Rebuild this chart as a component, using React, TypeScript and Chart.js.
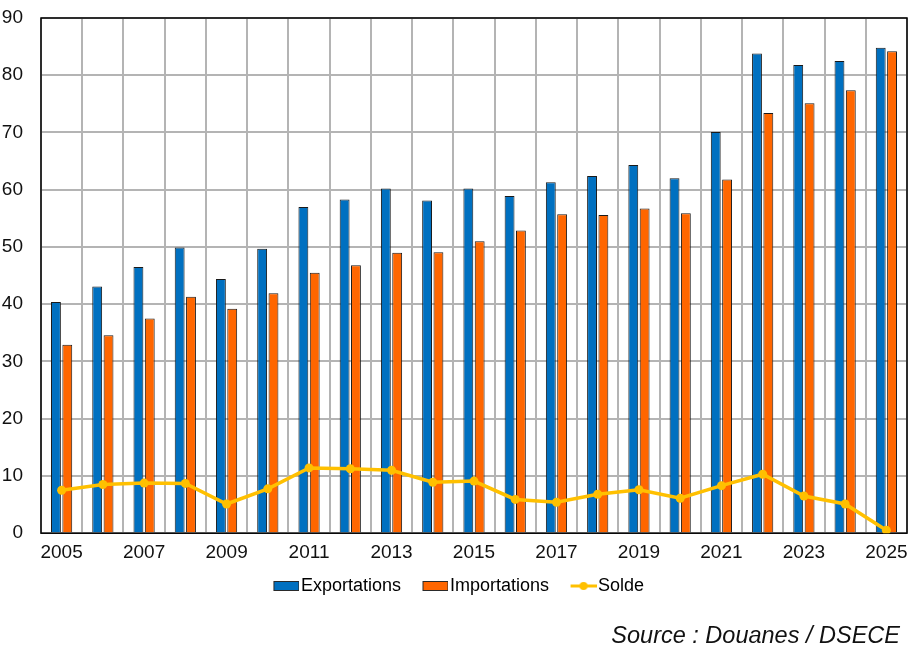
import React, { useEffect, useRef } from "react";
import { Chart, registerables } from "chart.js";

Chart.register(...registerables);

const years = [
  "2005", "2006", "2007", "2008", "2009", "2010", "2011", "2012", "2013", "2014", "2015",
  "2016", "2017", "2018", "2019", "2020", "2021", "2022", "2023", "2024", "2025",
];
const exportations = [
  40.4, 43.1, 46.5, 49.9, 44.4, 49.7, 57.0, 58.3, 60.2, 58.1, 60.2,
  58.9, 61.3, 62.4, 64.3, 62.0, 70.1, 83.8, 81.8, 82.5, 84.8,
];
const importations = [
  32.9, 34.6, 37.5, 41.3, 39.2, 41.9, 45.5, 46.8, 49.0, 49.1, 51.0,
  52.9, 55.7, 55.6, 56.7, 55.9, 61.8, 73.4, 75.1, 77.4, 84.2,
];
const solde = [
  7.5, 8.5, 8.75, 8.7, 5.1, 7.75, 11.4, 11.25, 11.0, 8.9, 9.1,
  5.9, 5.4, 6.8, 7.6, 6.1, 8.3, 10.3, 6.5, 5.1, 0.5,
];
const seriesNames = ["Exportations", "Importations", "Solde"];
const sourceText = "Source : Douanes / DSECE";

const BLUE = "#0070C0";
const ORANGE = "#FF6600";
const YELLOW = "#FFC000";
const GRID = "#B4B4B4";
const FONT = "'Liberation Sans', Arial, sans-serif";

function boxIcon(fill: string): HTMLCanvasElement {
  const c = document.createElement("canvas");
  c.width = 50;
  c.height = 12;
  const ctx = c.getContext("2d")!;
  ctx.fillStyle = fill;
  ctx.fillRect(24.5, 1.5, 25, 9);
  ctx.strokeStyle = "#2a2a2a";
  ctx.lineWidth = 1;
  ctx.strokeRect(24.5, 1.5, 25, 9);
  return c;
}

function lineIcon(color: string): HTMLCanvasElement {
  const c = document.createElement("canvas");
  c.width = 50;
  c.height = 12;
  const ctx = c.getContext("2d")!;
  ctx.strokeStyle = color;
  ctx.lineWidth = 3;
  ctx.beginPath();
  ctx.moveTo(24, 6);
  ctx.lineTo(50, 6);
  ctx.stroke();
  ctx.fillStyle = color;
  ctx.beginPath();
  ctx.arc(37, 6, 4, 0, Math.PI * 2);
  ctx.fill();
  return c;
}

const framePlugin = {
  id: "frame",
  afterLayout(chart: any) {
    if (chart.legend) {
      chart.legend.left -= 4;
      chart.legend.right -= 4;
    }
  },
  beforeDatasetsDraw(chart: any) {
    const { ctx, chartArea } = chart;
    ctx.save();
    ctx.strokeStyle = "#000";
    ctx.lineWidth = 1.5;
    ctx.strokeRect(chartArea.left, chartArea.top, chartArea.right - chartArea.left, chartArea.bottom - chartArea.top);
    ctx.restore();
  },
};

export default function App() {
  const ref = useRef<HTMLCanvasElement | null>(null);

  useEffect(() => {
    if (!ref.current) return;
    const icons = [boxIcon(BLUE), boxIcon(ORANGE), lineIcon(YELLOW)];
    const chart = new Chart(ref.current, {
      type: "bar",
      data: {
        labels: years,
        datasets: [
          {
            type: "line",
            label: seriesNames[2],
            data: solde,
            borderColor: YELLOW,
            backgroundColor: YELLOW,
            borderWidth: 3.5,
            pointRadius: 4.5,
            pointBackgroundColor: YELLOW,
            pointBorderColor: YELLOW,
            pointBorderWidth: 0,
            tension: 0,
            order: 0,
          } as any,
          {
            type: "bar",
            label: seriesNames[0],
            data: exportations,
            backgroundColor: BLUE,
            borderColor: "#1a1a1a",
            borderWidth: 1,
            categoryPercentage: 0.55,
            barPercentage: 0.87,
            order: 1,
          },
          {
            type: "bar",
            label: seriesNames[1],
            data: importations,
            backgroundColor: ORANGE,
            borderColor: "#1a1a1a",
            borderWidth: 1,
            categoryPercentage: 0.55,
            barPercentage: 0.87,
            order: 1,
          },
        ],
      },
      options: {
        responsive: false,
        animation: false,
        layout: { padding: { top: 18, left: 2, right: 10, bottom: 59 } },
        scales: {
          x: {
            offset: true,
            grid: { display: true, offset: true, color: GRID, lineWidth: 2, drawTicks: false },
            border: { display: false },
            ticks: {
              autoSkip: false,
              maxRotation: 0,
              padding: 8,
              color: "#111",
              font: { family: FONT, size: 19 },
              callback: (_v: any, i: number) => (i % 2 === 0 ? years[i] : ""),
            },
          },
          y: {
            min: 0,
            max: 90,
            grid: { color: GRID, lineWidth: 2, drawTicks: false },
            border: { display: false },
            ticks: {
              stepSize: 10,
              padding: 18,
              color: "#111",
              font: { family: FONT, size: 19 },
            },
            afterFit: (s: any) => {
              s.width = 39;
              s.paddingTop = 0;
              s.paddingBottom = 0;
            },
          },
        },
        plugins: {
          tooltip: { enabled: false },
          title: { display: false },
          legend: {
            position: "bottom",
            labels: {
              usePointStyle: true,
              pointStyleWidth: 35,
              boxHeight: 12,
              padding: 5,
              color: "#111",
              font: { family: FONT, size: 18 },
              generateLabels: () =>
                seriesNames.map((name, i) => ({
                  text: name,
                  pointStyle: icons[i],
                  fillStyle: "transparent",
                  strokeStyle: "transparent",
                  lineWidth: 0,
                  hidden: false,
                  datasetIndex: i === 2 ? 0 : i + 1,
                })) as any,
            },
          },
        },
      },
      plugins: [framePlugin],
    });
    return () => chart.destroy();
  }, []);

  return (
    <div style={{ position: "absolute", left: 0, top: 0, width: 917, height: 664, background: "#fff" }}>
      <canvas ref={ref} width={917} height={664} style={{ display: "block" }} />
      <div
        style={{
          position: "absolute",
          right: 17,
          top: 624,
          fontFamily: FONT,
          fontStyle: "italic",
          fontSize: 23.5,
          lineHeight: "23px",
          color: "#111",
          whiteSpace: "nowrap",
        }}
      >
        {sourceText}
      </div>
    </div>
  );
}
